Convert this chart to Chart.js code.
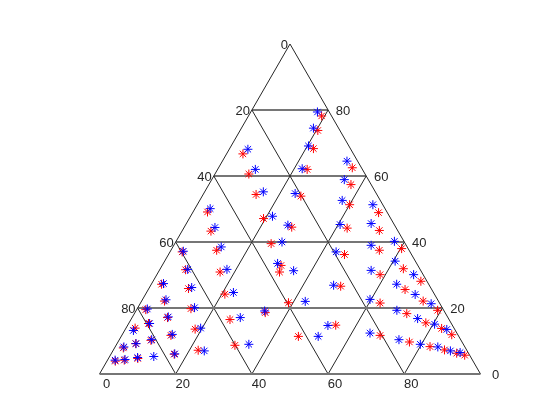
<!DOCTYPE html>
<html><head><meta charset="utf-8">
<script src="https://cdn.jsdelivr.net/npm/chart.js@4"></script>
<style>html,body{margin:0;padding:0;background:#fff}</style>
</head><body>
<canvas id="c" width="560" height="420"></canvas>
<script>
// Ternary components in percent: A = top vertex component, B = bottom-right vertex component
const redA=[27.2,25.9,24.2,22.1,19.5,19.8,17.1,13.9,15.3,13.6,11.7,10.2,9.2,7.9,6.0,7.2,4.7,4.2,3.9,26.6,21.6,18.6,16.5,14.8,11.4,8.7,28.1,25.6,22.1,21.5,19.3,18.3,15.5,13.8,11.9,11.7,9.7,8.3,7.3,6.3,5.7,49.1,43.3,37.0,37.5,31.6,30.9,54.4,53.9,51.3,47.1,44.5,44.2,39.5,36.2,32.9,30.9,48.9,43.5,38.0,37.5,31.9,30.1,66.7,60.6,62.0,78.2,73.8,68.3,62.5,57.4];
const redB=[2.7,10.4,20.8,6.0,2.4,14.1,9.3,2.4,5.2,18.3,12.9,8.4,4.9,2.3,16.6,22.3,7.7,4.4,2.2,50.0,38.8,34.2,26.0,54.6,46.5,31.2,70.3,67.4,73.9,62.9,79.1,71.5,77.9,82.9,86.5,67.8,76.5,82.6,86.9,90.6,93.0,3.8,7.6,3.2,12.0,6.8,16.2,13.9,25.9,40.0,19.5,28.2,42.9,25.3,46.2,31.2,31.8,48.8,51.7,60.3,54.7,63.8,58.6,4.3,8.9,23.5,19.2,20.4,22.0,35.1,37.3];
const blueA=[27.4,26.2,24.7,22.5,19.7,20.1,17.3,13.2,15.3,13.9,12.0,10.4,9.2,8.2,6.1,7.0,5.0,4.4,4.2,5.3,26.9,22.0,19.1,17.1,14.7,11.4,9.0,30.1,27.2,24.1,21.3,22.6,19.3,16.8,15.1,13.5,12.4,10.4,9.0,8.2,7.0,6.5,50.1,44.4,37.2,38.5,31.7,31.7,55.2,54.7,52.6,47.8,45.1,45.3,40.0,37.0,33.5,31.3,51.3,45.6,40.2,39.0,34.2,31.4,68.1,62.0,62.2,79.4,74.5,69.1,64.5,58.9];
const blueB=[3.1,11.1,22.8,6.2,2.7,14.9,9.4,2.3,5.5,19.6,13.1,8.5,5.0,2.3,16.7,24.0,7.5,4.5,2.0,11.6,48.0,43.0,33.8,28.4,52.6,51.7,34.7,67.4,64.4,70.8,76.4,59.7,68.4,75.1,80.4,84.4,64.8,73.4,79.7,84.7,88.6,91.4,4.0,8.1,3.4,12.7,7.3,17.6,15.4,24.0,37.4,21.5,26.9,40.5,27.9,43.6,30.0,35.3,46.1,48.5,57.3,51.8,60.5,55.6,4.9,9.9,22.1,17.5,18.9,20.3,32.7,34.8];
const gridLevels=[20,40,60,80];
const bottomTicks=['0','20','40','60','80'];
const leftTicks=['0','20','40','60','80'];
const rightTicks=['80','60','40','20','0'];

function toXY(a,b){return {x:b+a/2,y:a};}

const lineColor='#262626';
const hColor='#767676';
const gridSets=[];
function addLine(pts,color,width){
  gridSets.push({type:'line',data:pts.map(p=>toXY(p[0],p[1])),borderColor:color,borderWidth:width,pointRadius:0,fill:false,tension:0,clip:false});
}
addLine([[0,0],[0,100]],hColor,2);                 // bottom edge
addLine([[0,100],[100,0],[0,0]],lineColor,1);      // two sides
gridLevels.forEach(L=>{
  addLine([[L,0],[L,100-L]],hColor,2);             // constant A (horizontal)
  addLine([[0,L],[100-L,L]],lineColor,1);          // constant B
  addLine([[0,100-L],[100-L,0]],lineColor,1);      // constant C
});

const blueSet={type:'scatter',data:blueA.map((a,i)=>toXY(a,blueB[i])),pointStyle:'star',pointRadius:4.5,borderWidth:1,borderColor:'#0000ff',backgroundColor:'#0000ff',showLine:false,clip:false};
const redSet={type:'scatter',data:redA.map((a,i)=>toXY(a,redB[i])),pointStyle:'star',pointRadius:4.5,borderWidth:1,borderColor:'#ff0000',backgroundColor:'#ff0000',showLine:false,clip:false};

const labelPlugin={id:'ternLabels',afterDatasetsDraw(chart){
  const {ctx,scales:{x,y}}=chart;
  ctx.save();
  ctx.font='13px "Liberation Sans", Arial, sans-serif';
  ctx.fillStyle='#262626';
  ctx.textBaseline='middle';
  ctx.textAlign='center';
  bottomTicks.forEach((t,i)=>{const p=toXY(0,i*20);ctx.fillText(t,x.getPixelForValue(p.x)+7,y.getPixelForValue(p.y)+10.5);});
  ctx.textAlign='right';
  leftTicks.forEach((t,i)=>{const a=100-20*i;const p=toXY(a,0);ctx.fillText(t,x.getPixelForValue(p.x)-2,y.getPixelForValue(p.y)+1.5);});
  ctx.textAlign='center';
  rightTicks.forEach((t,i)=>{const a=80-20*i;const p=toXY(a,100-a);ctx.fillText(t,x.getPixelForValue(p.x)+15,y.getPixelForValue(p.y)+1.5);});
  ctx.restore();
}};

new Chart(document.getElementById('c'),{
  type:'scatter',
  data:{datasets:[blueSet,redSet,...gridSets]},
  options:{
    responsive:false,animation:false,
    layout:{padding:{left:99.5,right:79.5,top:44,bottom:46}},
    scales:{x:{type:'linear',min:0,max:100,display:false},y:{type:'linear',min:0,max:100,display:false}},
    plugins:{legend:{display:false},tooltip:{enabled:false}}
  },
  plugins:[labelPlugin]
});
</script>
</body></html>
